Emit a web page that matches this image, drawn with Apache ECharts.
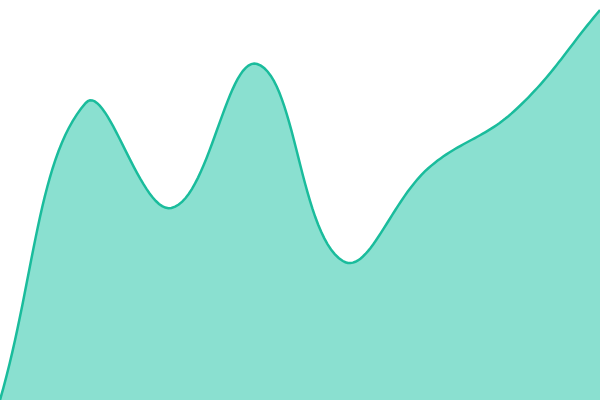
<!DOCTYPE html>
<html lang="en">
<head>
    <meta charset="UTF-8">
    <title>Area</title>
    <script src="https://cdn.jsdelivr.net/npm/echarts@6/dist/echarts.min.js"></script>
    <style>
        html, body { margin: 0; padding: 0; background: #fff; }
        #chart { width: 600px; height: 400px; }
    </style>
</head>
<body>
    <div id="chart"></div>
    <script>
        var categories = ['A', 'B', 'C', 'D', 'E', 'F', 'G', 'H'];
        var values = [0, 297, 192, 336, 139, 232, 289, 390];

        // distance weighted spline, tension 0.4 (the built-in smoothing flattens the peaks)
        var tension = 0.4;
        function sampleCurve(p) {
            var n = p.length, cps = [];
            for (var i = 0; i < n; i++) {
                var prev = p[Math.max(i - 1, 0)], cur = p[i], next = p[Math.min(i + 1, n - 1)];
                var d01 = Math.hypot(cur[0] - prev[0], cur[1] - prev[1]);
                var d12 = Math.hypot(next[0] - cur[0], next[1] - cur[1]);
                var s01 = d01 / (d01 + d12) || 0, s12 = d12 / (d01 + d12) || 0;
                var fa = tension * s01, fb = tension * s12;
                cps.push({
                    prev: [cur[0] - fa * (next[0] - prev[0]), cur[1] - fa * (next[1] - prev[1])],
                    next: [cur[0] + fb * (next[0] - prev[0]), cur[1] + fb * (next[1] - prev[1])]
                });
            }
            var out = [];
            for (i = 0; i < n - 1; i++) {
                var p1 = p[i], p2 = p[i + 1], c1 = cps[i].next, c2 = cps[i + 1].prev;
                for (var s = 0; s < 30; s++) {
                    var t = s / 30, u = 1 - t;
                    out.push([
                        u * u * u * p1[0] + 3 * u * u * t * c1[0] + 3 * u * t * t * c2[0] + t * t * t * p2[0],
                        u * u * u * p1[1] + 3 * u * u * t * c1[1] + 3 * u * t * t * c2[1] + t * t * t * p2[1]
                    ]);
                }
            }
            out.push(p[n - 1]);
            return out;
        }

        var chart = echarts.init(document.getElementById('chart'));
        chart.setOption({
            animation: false,
            grid: { left: 0, right: 0, top: 0, bottom: 0 },
            xAxis: { type: 'category', data: categories, boundaryGap: false, show: false },
            yAxis: { type: 'value', min: 0, max: 400, show: false },
            series: [{
                type: 'custom',
                data: [0],
                renderItem: function (params, api) {
                    var pts = values.map(function (v, i) { return api.coord([i, v]); });
                    var line = sampleCurve(pts);
                    var area = line.concat([api.coord([values.length - 1, 0]), api.coord([0, 0])]);
                    return {
                        type: 'group',
                        children: [
                            { type: 'polygon', shape: { points: area }, style: { fill: '#8ae0d0' } },
                            { type: 'polyline', shape: { points: line }, style: { fill: null, stroke: '#1abc9c', lineWidth: 2.5 } }
                        ]
                    };
                }
            }]
        });
    </script>
</body>
</html>
